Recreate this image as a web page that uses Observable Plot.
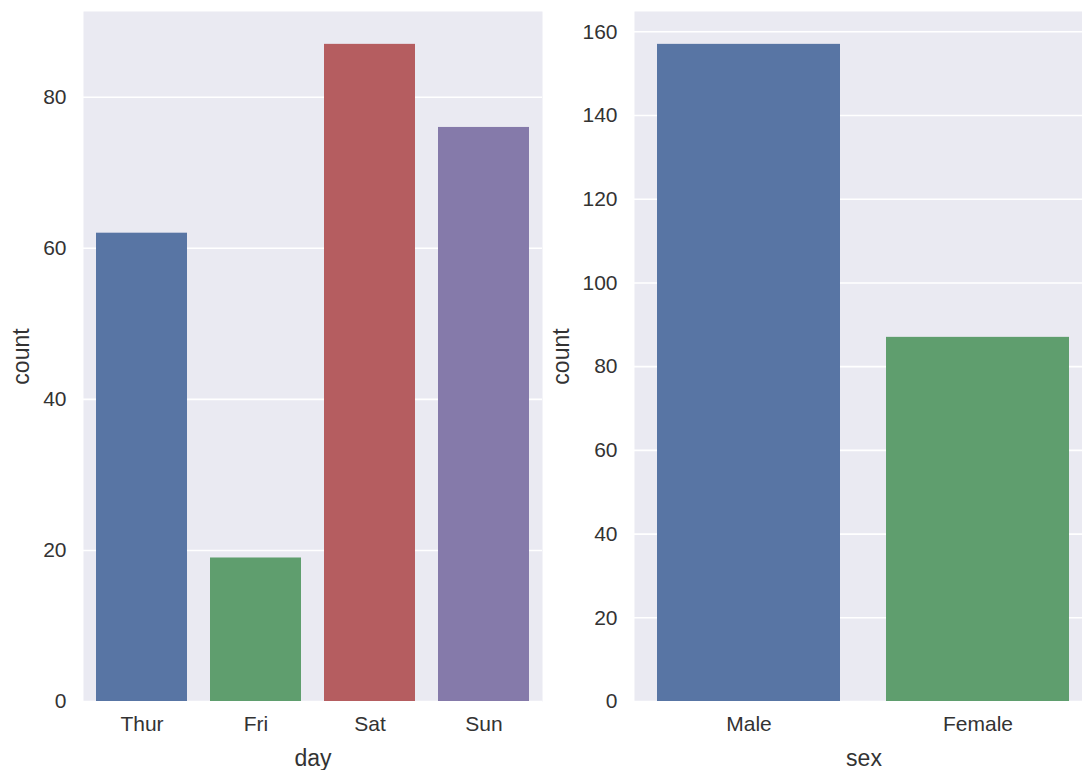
<!DOCTYPE html>
<html>
<head>
<meta charset="utf-8">
<script src="https://cdn.jsdelivr.net/npm/d3@7"></script>
<script src="https://cdn.jsdelivr.net/npm/@observablehq/plot@0.6"></script>
<style>
  html, body { margin: 0; padding: 0; background: #fff; overflow: hidden; }
  #wrap { position: relative; width: 1082px; height: 770px; overflow: hidden; background: #fff; }
  #left, #right { position: absolute; top: 0; }
  #left { left: 0; }
  #right { left: 540px; }
  svg { overflow: hidden !important; max-width: none !important; }
</style>
</head>
<body>
<div id="wrap"><div id="left"></div><div id="right"></div></div>
<script>
const days = ["Thur", "Fri", "Sat", "Sun"];
const dayCounts = [62, 19, 87, 76];
const dayColors = ["#5875A4", "#5F9E6E", "#B55D60", "#857AAA"];
const sexes = ["Male", "Female"];
const sexCounts = [157, 87];
const sexColors = ["#5875A4", "#5F9E6E"];
const dayTicks = [0, 20, 40, 60, 80];
const sexTicks = [0, 20, 40, 60, 80, 100, 120, 140, 160];

const font = "'Liberation Sans', Arial, sans-serif";
const textColor = "#333333";
const bg = "#EAEAF2";

function panel({cats, counts, colors, ticks, xLabel, width, marginLeft, marginRight, yLabelOffset}) {
  const data = cats.map((c, i) => ({cat: c, count: counts[i], color: colors[i]}));
  return Plot.plot({
    width, height: 770,
    marginLeft, marginRight, marginTop: 11, marginBottom: 69,
    style: {fontFamily: font, fontSize: "21px", color: textColor, background: "transparent", overflow: "hidden"},
    x: {domain: cats, paddingInner: 0.2, paddingOuter: 0.1},
    y: {domain: [0, d3.max(counts) * 1.05]},
    marks: [
      Plot.frame({fill: bg, stroke: null}),
      Plot.gridY(ticks, {stroke: "#fff", strokeOpacity: 1, strokeWidth: 1.6}),
      Plot.barY(data, {x: "cat", y: "count", fill: "color"}),
      Plot.axisX({tickSize: 0, tickPadding: 15, label: null, fontSize: 21}),
      Plot.axisY(ticks, {tickSize: 0, tickPadding: 17, label: null, fontSize: 21}),
      Plot.text([xLabel], {text: d => d, frameAnchor: "bottom", dy: 64, lineAnchor: "bottom", textAnchor: "middle", fontSize: 23, fill: textColor}),
      Plot.text(["count"], {text: d => d, frameAnchor: "left", dx: -yLabelOffset, rotate: -90, lineAnchor: "top", textAnchor: "middle", fontSize: 23, fill: textColor})
    ]
  });
}

document.getElementById("left").appendChild(panel({
  cats: days, counts: dayCounts, colors: dayColors, ticks: dayTicks, xLabel: "day",
  width: 560, marginLeft: 83, marginRight: 18, yLabelOffset: 71
}));
document.getElementById("right").appendChild(panel({
  cats: sexes, counts: sexCounts, colors: sexColors, ticks: sexTicks, xLabel: "sex",
  width: 553, marginLeft: 94, marginRight: 0, yLabelOffset: 82
}));
</script>
</body>
</html>
